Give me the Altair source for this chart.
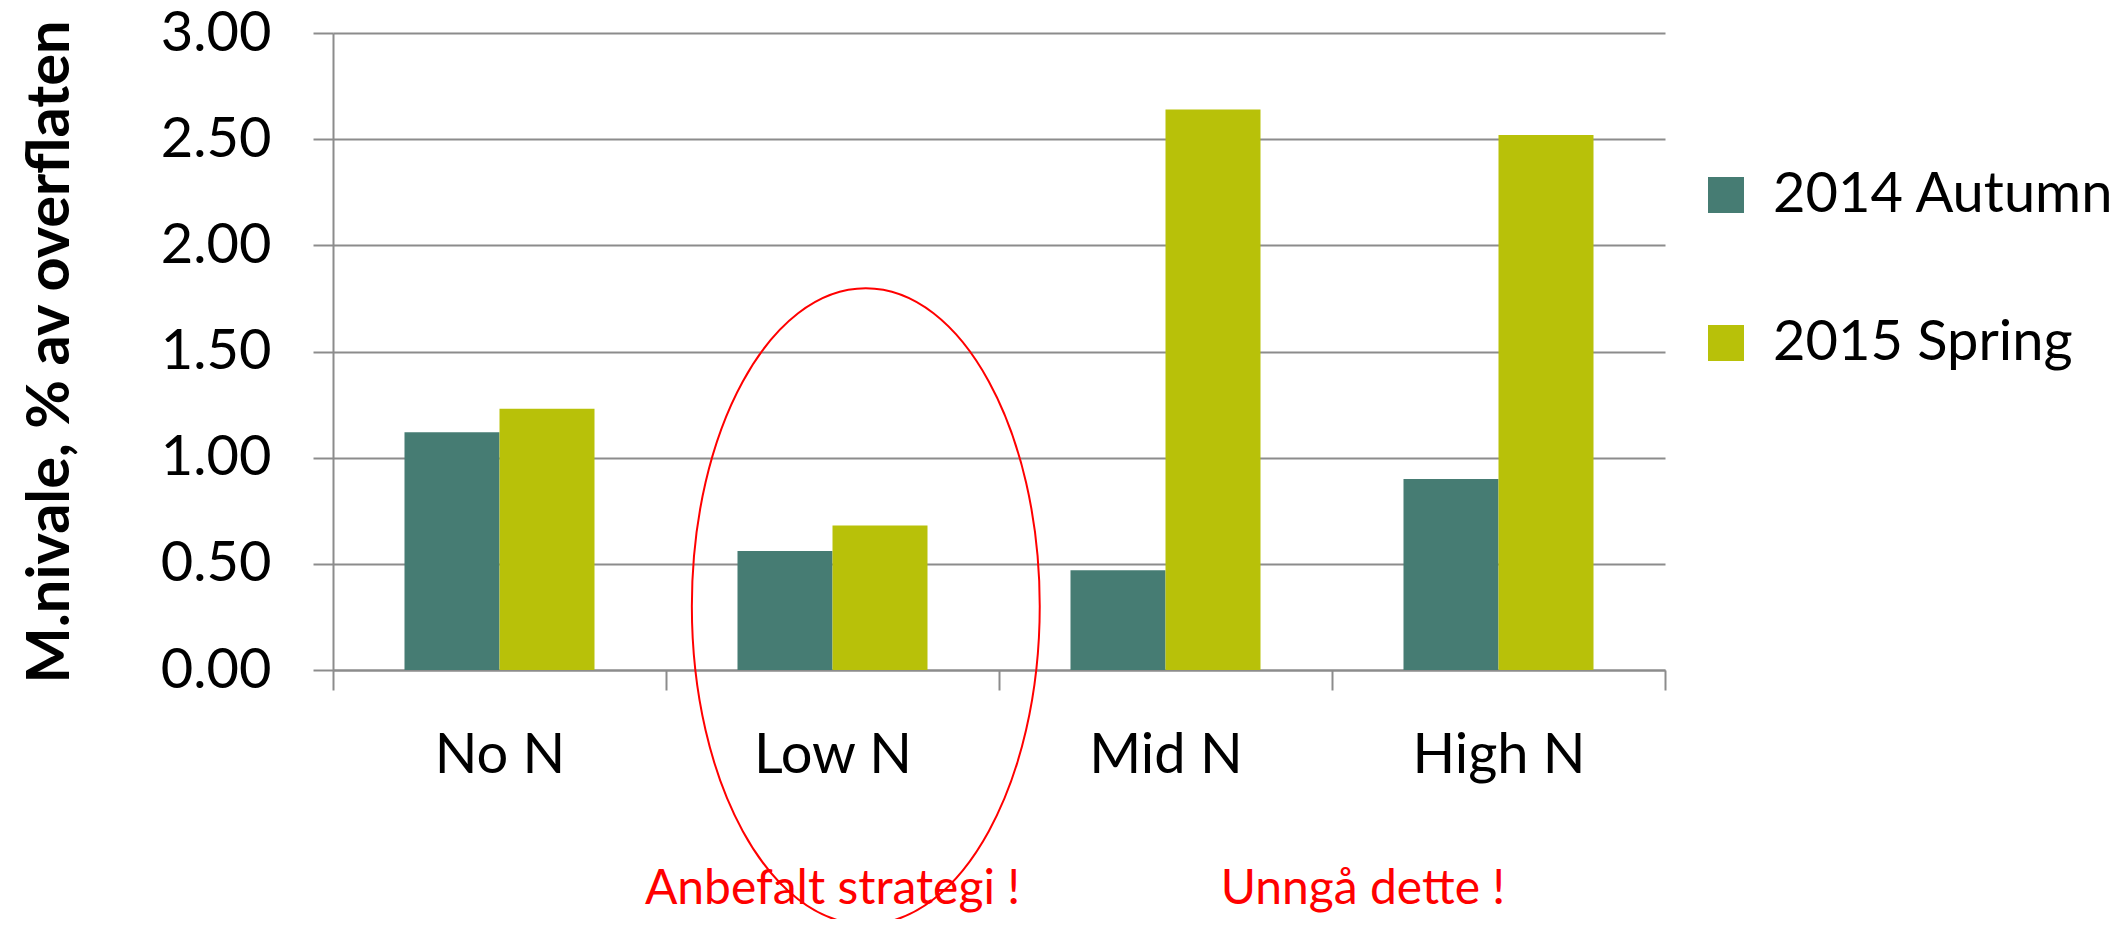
import altair as alt
import pandas as pd

# ---- data ----
categories = ["No N", "Low N", "Mid N", "High N"]
series = ["2014 Autumn", "2015 Spring"]
autumn_2014 = [1.12, 0.56, 0.47, 0.90]
spring_2015 = [1.23, 0.68, 2.64, 2.52]
y_ticks = [0.0, 0.5, 1.0, 1.5, 2.0, 2.5, 3.0]
series_colors = ["#467C73", "#B8C109"]

# annotations (category, value on y scale)
ann_left_text = "Anbefalt strategi !"
ann_left_cat = "Low N"
ann_right_text = "Unngå dette !"
ann_right_cat = "High N"
ann_text_value = -1.10
ellipse_cat = "Low N"
ellipse_value = 0.30

rows = []
for c, a, s in zip(categories, autumn_2014, spring_2015):
    rows.append({"cat": c, "series": series[0], "value": a})
    rows.append({"cat": c, "series": series[1], "value": s})
df = pd.DataFrame(rows)

FONT = "Lato"
GRAY = "#8C8C8C"
RED = "#FF0000"

yscale = alt.Scale(domain=[0, 3], nice=False, zero=True)
xscale = alt.Scale(domain=categories, paddingInner=0, paddingOuter=0)

x_axis = alt.Axis(title=None, labelAngle=0, labelFont=FONT, labelFontSize=56,
                  labelColor="black", labelPadding=82, labelBaseline="alphabetic",
                  labelLimit=500, tickBand="extent", tickSize=20, tickColor=GRAY,
                  tickWidth=2, domainColor=GRAY, domainWidth=2, grid=False)
y_axis = alt.Axis(values=y_ticks, format=".2f", title="M.nivale, % av overflaten",
                  labelFont=FONT, labelFontSize=56, labelColor="black",
                  labelPadding=42, labelBaseline="middle", tickSize=20,
                  tickColor=GRAY, tickWidth=2, grid=True, gridColor=GRAY,
                  gridWidth=2, domainColor=GRAY, domainWidth=2,
                  titleFont=FONT, titleFontSize=59.5, titleFontWeight="bold",
                  titleColor="black", titleAngle=270, titleX=-265, titleY=318.5,
                  titleBaseline="alphabetic", titleAlign="center")

bars = alt.Chart(df).mark_bar().encode(
    x=alt.X("cat:N", scale=xscale, sort=categories, axis=x_axis),
    xOffset=alt.XOffset("series:N", sort=series,
                        scale=alt.Scale(paddingInner=0, paddingOuter=0.7525)),
    y=alt.Y("value:Q", scale=yscale, axis=y_axis),
    color=alt.Color("series:N", sort=series,
                    scale=alt.Scale(domain=series, range=series_colors),
                    legend=alt.Legend(title=None, orient="none", legendX=1365, legendY=134,
                                      symbolType="square", symbolSize=1296,
                                      symbolStrokeWidth=0, labelFont=FONT,
                                      labelFontSize=56, labelColor="black",
                                      labelOffset=19, rowPadding=92, labelLimit=600)),
)

ell_df = pd.DataFrame({"cat": [ellipse_cat], "value": [ellipse_value]})
ellipse = alt.Chart(ell_df).mark_point(
    shape="M -0.547 0 A 0.547 1 0 1 0 0.547 0 A 0.547 1 0 1 0 -0.547 0 Z",
    size=404496, filled=False, stroke=RED, strokeWidth=2, opacity=1,
).encode(
    x=alt.X("cat:N", scale=xscale, sort=categories, bandPosition=0.6, axis=x_axis),
    y=alt.Y("value:Q", scale=yscale, axis=y_axis),
)

def ann_layer(text, cat, band):
    d = pd.DataFrame({"cat": [cat], "value": [ann_text_value], "label": [text]})
    return alt.Chart(d).mark_text(
        font=FONT, fontSize=48, color=RED, align="center", baseline="alphabetic"
    ).encode(
        x=alt.X("cat:N", scale=xscale, sort=categories, bandPosition=band, axis=x_axis),
        y=alt.Y("value:Q", scale=yscale, axis=y_axis),
        text="label:N",
    )

t1 = ann_layer(ann_left_text, ann_left_cat, 0.5)
t2 = ann_layer(ann_right_text, ann_right_cat, 0.093)

chart = alt.layer(bars, ellipse, t1, t2).properties(
    width=1332, height=637,
    background="white",
    autosize=alt.AutoSizeParams(type="none"),
    padding={"left": 325, "top": 25, "right": 455, "bottom": 249},
).configure_view(stroke=None)

chart.save("out.html", embed_options={"renderer": "svg", "actions": False})
